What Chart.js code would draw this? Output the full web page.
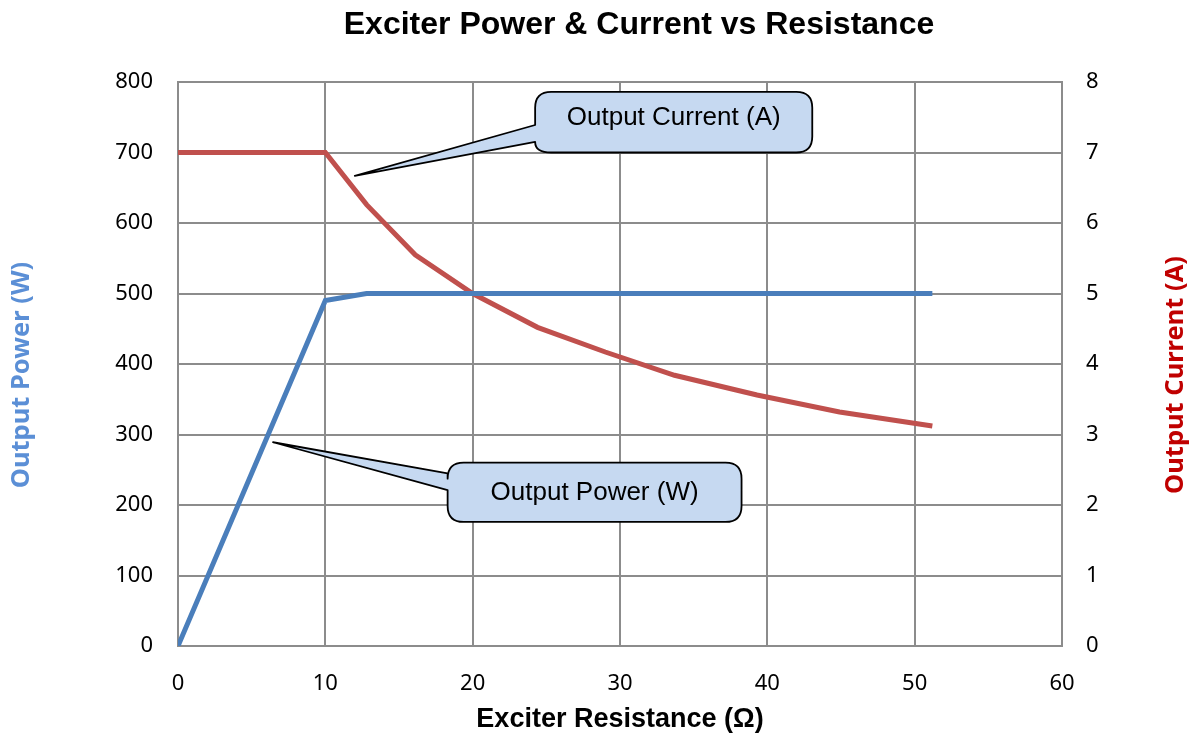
<!DOCTYPE html>
<html>
<head>
<meta charset="utf-8">
<script src="https://cdn.jsdelivr.net/npm/chart.js@4.4.1/dist/chart.umd.min.js"></script>
<style>
html,body{margin:0;padding:0;background:#fff;}
#wrap{width:1200px;height:736px;position:relative;}
</style>
</head>
<body>
<div id="wrap"><canvas id="c" width="1200" height="736"></canvas></div>
<script>
// ---- Data ----
const resistance = [0, 10, 12.8, 16.1, 20, 24.4, 29, 33.7, 39.3, 44.9, 51.2];
const outputPower = [0, 490, 500, 500, 500, 500, 500, 500, 500, 500, 500];
const outputCurrent = [7, 7, 6.26, 5.55, 5.0, 4.52, 4.17, 3.84, 3.56, 3.32, 3.12];
const xTicks = [0, 10, 20, 30, 40, 50, 60];
const powerTicks = [0, 100, 200, 300, 400, 500, 600, 700, 800];
const currentTicks = [0, 1, 2, 3, 4, 5, 6, 7, 8];

const titleText = 'Exciter Power & Current vs Resistance';
const xTitle = 'Exciter Resistance (\u03A9)';
const yLeftTitle = 'Output Power (W)';
const yRightTitle = 'Output Current (A)';

// callouts in data coordinates (x on resistance axis, y on given axis)
const callouts = [
  {text: 'Output Current (A)', axis: 'yR', tip: [12.0, 6.67], box: [24.24, 43.05, 7.86, 7.0], base: [7.39, 7.15], dy: -4},
  {text: 'Output Power (W)', axis: 'yL', tip: [6.45, 289], box: [18.3, 38.25, 260, 176], base: [245, 221], dy: 1}
];

const BLUE = '#4a7ebb';
const RED = '#c0504d';
const GRID = '#8c8c8c';

const toPts = (ys) => resistance.map((x, i) => ({x: x, y: ys[i]}));

function roundedCallout(ctx, l, r, t, b, tipX, tipY, baseTop, baseBot, rad) {
  ctx.beginPath();
  ctx.moveTo(l + rad, t);
  ctx.lineTo(r - rad, t);
  ctx.quadraticCurveTo(r, t, r, t + rad);
  ctx.lineTo(r, b - rad);
  ctx.quadraticCurveTo(r, b, r - rad, b);
  ctx.lineTo(l + rad, b);
  ctx.quadraticCurveTo(l, b, l, Math.max(b - rad, baseBot));
  ctx.lineTo(l, baseBot);
  ctx.lineTo(tipX, tipY);
  ctx.lineTo(l, baseTop);
  ctx.lineTo(l, t + rad);
  ctx.quadraticCurveTo(l, t, l + rad, t);
  ctx.closePath();
}

const decor = {
  id: 'decor',
  afterDraw(chart) {
    const ctx = chart.ctx;
    const ca = chart.chartArea;
    const sx = chart.scales.x, yL = chart.scales.yL, yR = chart.scales.yR;
    ctx.save();
    // Title
    ctx.fillStyle = '#000';
    ctx.font = 'bold 32px "Liberation Sans", Arial, sans-serif';
    ctx.textAlign = 'center';
    ctx.textBaseline = 'middle';
    ctx.fillText(titleText, 639, 25);
    // X title
    ctx.font = 'bold 27px "Liberation Sans", Arial, sans-serif';
    ctx.fillText(xTitle, (ca.left + ca.right) / 2, 720);
    // Left title
    ctx.font = 'bold 25.5px "Noto Sans", "Liberation Sans", sans-serif';
    ctx.save();
    ctx.translate(22, 375);
    ctx.rotate(-Math.PI / 2);
    ctx.fillStyle = '#5b8fd6';
    ctx.fillText(yLeftTitle, 0, 0);
    ctx.restore();
    // Right title
    ctx.save();
    ctx.translate(1176, 375);
    ctx.rotate(-Math.PI / 2);
    ctx.fillStyle = '#c00000';
    ctx.fillText(yRightTitle, 0, 0);
    ctx.restore();
    // Callouts
    callouts.forEach(c => {
      const ys = c.axis === 'yR' ? yR : yL;
      const l = sx.getPixelForValue(c.box[0]);
      const r = sx.getPixelForValue(c.box[1]);
      const t = ys.getPixelForValue(c.box[2]);
      const b = ys.getPixelForValue(c.box[3]);
      const tx = sx.getPixelForValue(c.tip[0]);
      const ty = ys.getPixelForValue(c.tip[1]);
      const bt = ys.getPixelForValue(c.base[0]);
      const bb = ys.getPixelForValue(c.base[1]);
      roundedCallout(ctx, l, r, t, b, tx, ty, bt, bb, 16);
      ctx.fillStyle = '#c6d9f1';
      ctx.fill();
      ctx.lineWidth = 1.8;
      ctx.strokeStyle = '#000';
      ctx.lineJoin = 'round';
      ctx.stroke();
      ctx.fillStyle = '#000';
      ctx.font = '26px "Liberation Sans", Arial, sans-serif';
      ctx.textAlign = 'center';
      ctx.textBaseline = 'middle';
      ctx.fillText(c.text, (l + r) / 2, (t + b) / 2 + c.dy);
    });
    ctx.restore();
  }
};

const tickFont = {family: '"Noto Sans", "Liberation Sans", sans-serif', size: 22};

new Chart(document.getElementById('c'), {
  type: 'line',
  data: {
    datasets: [
      {label: 'Output Power (W)', data: toPts(outputPower), yAxisID: 'yL', borderColor: BLUE, borderWidth: 5, pointRadius: 0, tension: 0, fill: false},
      {label: 'Output Current (A)', data: toPts(outputCurrent), yAxisID: 'yR', borderColor: RED, borderWidth: 5, pointRadius: 0, tension: 0, fill: false}
    ]
  },
  options: {
    responsive: false,
    animation: false,
    devicePixelRatio: 1,
    layout: {padding: {top: 82, left: 0, right: 0, bottom: 0}},
    plugins: {legend: {display: false}, title: {display: false}, tooltip: {enabled: false}},
    scales: {
      x: {
        type: 'linear', min: 0, max: 60,
        afterBuildTicks: (s) => { s.ticks = xTicks.map(v => ({value: v})); },
        afterFit: (s) => { s.height = 90; },
        grid: {color: GRID, lineWidth: 2, drawTicks: false},
        border: {color: GRID, width: 2},
        ticks: {color: '#000', font: tickFont, padding: 25, maxRotation: 0}
      },
      yL: {
        type: 'linear', position: 'left', min: 0, max: 800,
        afterBuildTicks: (s) => { s.ticks = powerTicks.map(v => ({value: v})); },
        afterFit: (s) => { s.width = 178; },
        grid: {color: GRID, lineWidth: 2, drawTicks: false},
        border: {color: GRID, width: 2},
        ticks: {color: '#000', font: tickFont, padding: 25}
      },
      yR: {
        type: 'linear', position: 'right', min: 0, max: 8,
        afterBuildTicks: (s) => { s.ticks = currentTicks.map(v => ({value: v})); },
        afterFit: (s) => { s.width = 138; },
        grid: {display: false, drawTicks: false},
        border: {color: GRID, width: 2},
        ticks: {color: '#000', font: tickFont, padding: 24}
      }
    }
  },
  plugins: [decor]
});
</script>
</body>
</html>
